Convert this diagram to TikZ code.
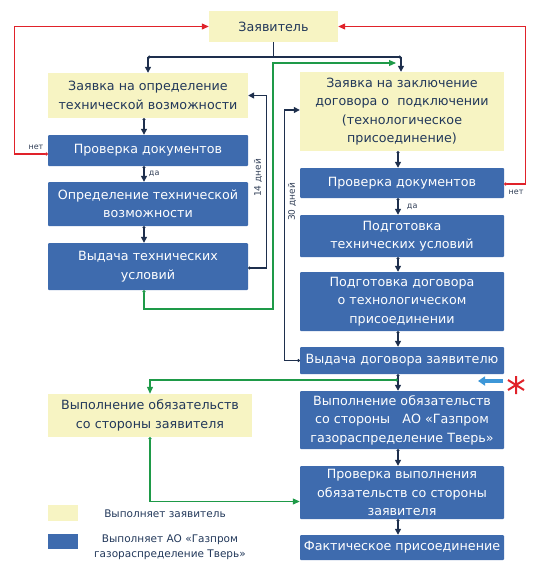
\documentclass[tikz,border=0pt]{standalone}
\usepackage{fontspec}
\setmainfont{DejaVu Sans}
\usetikzlibrary{arrows.meta}
\definecolor{ybg}{HTML}{F7F4C3}
\definecolor{bbg}{HTML}{3E6BAE}
\definecolor{navy}{HTML}{1E2F4D}
\definecolor{ytx}{HTML}{22385A}
\definecolor{rline}{HTML}{E0222A}
\definecolor{gline}{HTML}{1E9A48}
\definecolor{lblue}{HTML}{3D97D8}
\tikzset{
  box/.style={rectangle, inner sep=1pt, align=center, font=\fontsize{12.7}{18.5}\selectfont},
  ybox/.style={box, fill=ybg, text=ytx},
  bbox/.style={box, fill=bbg, text=white, rounded corners=1pt},
  arr/.style={navy, line width=1.3pt, {Circle[length=2.6pt]}-{Triangle[length=6pt,width=6pt]}},
  redarr/.style={rline, line width=1.1pt, {Circle[length=3pt]}-{Triangle[length=7pt,width=6pt]}},
  grarr/.style={gline, line width=1.1pt, {Circle[length=3pt]}-{Triangle[length=7pt,width=6pt]}},
  small/.style={font=\fontsize{8}{9}\selectfont, text=navy!80!gray},
  leg/.style={font=\fontsize{10.5}{15}\selectfont, text=ytx, align=center}
}
\begin{document}
\begin{tikzpicture}[x=1pt,y=-1pt]
\useasboundingbox (0,0) rectangle (544,581);
% boxes
\node[ybox, minimum width=129pt, minimum height=31pt] (zav) at (273.5,26.5) {Заявитель};
\node[ybox, minimum width=200pt, minimum height=45pt] (yL) at (148,95.5) {Заявка на определение\\технической возможности};
\node[bbox, minimum width=200pt, minimum height=31pt] (pL) at (148,150.5) {Проверка документов};
\node[bbox, minimum width=200pt, minimum height=44pt] (oL) at (148,204) {Определение технической\\возможности};
\node[bbox, minimum width=200pt, minimum height=47pt] (vL) at (148,266.5) {Выдача технических\\условий};
\node[ybox, minimum width=204pt, minimum height=79pt] (yR) at (402,111.5) {Заявка на заключение\\договора о\ \ подключении\\(технологическое\\присоединение)};
\node[bbox, minimum width=204pt, minimum height=30pt] (pR) at (402,183) {Проверка документов};
\node[bbox, minimum width=204pt, minimum height=42pt] (tR) at (402,236) {Подготовка\\технических условий};
\node[bbox, minimum width=204pt, minimum height=59pt] (dR) at (402,301.5) {Подготовка договора\\о технологическом\\присоединении};
\node[bbox, minimum width=204pt, minimum height=27pt] (gR) at (402,360.5) {Выдача договора заявителю};
\node[bbox, minimum width=204pt, minimum height=58pt] (aR) at (402,420) {Выполнение обязательств\\со стороны\ \ \ АО «Газпром\\газораспределение Тверь»};
\node[bbox, minimum width=204pt, minimum height=53pt] (cR) at (402,492.5) {Проверка выполнения\\обязательств со стороны\\заявителя};
\node[bbox, minimum width=204pt, minimum height=25pt] (fR) at (402,547.5) {Фактическое присоединение};
\node[ybox, minimum width=204pt, minimum height=43pt] (yL2) at (150,415.5) {Выполнение обязательств\\со стороны заявителя};
% legend
\node[fill=ybg, minimum width=30pt, minimum height=16pt, inner sep=0pt] (lg1) at (63,513) {};
\node[fill=bbg, minimum width=30pt, minimum height=15pt, inner sep=0pt] (lg2) at (63,541.5) {};
\node[leg] (lt1) at (165,514) {Выполняет заявитель};
\node[leg] (lt2) at (170,547.5) {Выполняет АО «Газпром\\газораспределение Тверь»};
% bus from applicant
\coordinate (busL) at (148,57);
\coordinate (busR) at (401,57);
\coordinate (busM) at (273.5,57);
\draw[navy, line width=1.3pt] (zav.south) -- (busM);
\draw[navy, line width=1.3pt, {Circle[length=2.6pt]}-{Circle[length=2.6pt]}] (busL) -- (busR);
\draw[navy, line width=1.3pt, -{Triangle[length=6pt,width=6pt]}] (busL) -- (yL.north);
\draw[navy, line width=1.3pt, -{Triangle[length=6pt,width=6pt]}] (busR) -- ([xshift=-1pt]yR.north);
% left column
\draw[arr] ([xshift=-4pt]yL.south) -- ([xshift=-4pt]pL.north);
\draw[arr] ([xshift=-4pt]pL.south) -- node[small, right=1pt] {да} ([xshift=-4pt]oL.north);
\draw[arr] ([xshift=-4pt]oL.south) -- ([xshift=-4pt]vL.north);
\draw[arr] ([yshift=-1.5pt]vL.east) -- ++(18,0) coordinate (c14) |- (yL.east);
\node[small, rotate=90, font=\fontsize{9}{10}\selectfont] (l14) at (258,178) {14 дней};
% right column
\draw[arr] ([xshift=-4pt]yR.south) -- ([xshift=-4pt]pR.north);
\draw[arr] ([xshift=-4pt]pR.south) -- node[small, right=5pt] {да} ([xshift=-4pt]tR.north);
\draw[arr] ([xshift=-4pt]tR.south) -- ([xshift=-4pt]dR.north);
\draw[arr] ([xshift=-4pt]dR.south) -- ([xshift=-4pt]gR.north);
\draw[arr] ([xshift=-4pt]gR.south) -- ([xshift=-4pt]aR.north);
\draw[arr] ([xshift=-4pt]aR.south) -- ([xshift=-4pt]cR.north);
\draw[arr] ([xshift=-4pt]cR.south) -- ([xshift=-4pt]fR.north);
\draw[arr] (gR.west) -- ++(-15,0) coordinate (c30) |- ([yshift=1.5pt]yR.west);
\node[small, rotate=90, font=\fontsize{9}{10}\selectfont] (l30) at (292,202) {30 дней};
% red "no" returns
\draw[redarr] ([yshift=-3.5pt]pL.west) -- ++(-33,0) coordinate (rl) |- (zav.west);
\node[small] (n1) at (36,147) {нет};
\draw[redarr] ([yshift=-1pt]pR.east) -- ++(21,0) coordinate (rr) |- (zav.east);
\node[small] (n2) at (516,192) {нет};
% green lines
\coordinate (g1) at (273,309);
\coordinate (g2) at (273,63);
\coordinate (g3) at (396,63);
\draw[gline, line width=1.1pt, {Circle[length=3pt]}-{Triangle[length=7pt,width=6pt]}] ([xshift=-4pt]vL.south) |- (g1) -- (g2) -- (g3);
\coordinate (gj) at (398,380);
\draw[grarr] (gj) -| (yL2.north);
\draw[grarr] (yL2.south) |- ([yshift=-9pt]cR.west);
% blue arrow and asterisk
\coordinate (ba1) at (503,381);
\coordinate (ba2) at (478,381);
\draw[lblue, line width=3.5pt, -{Triangle[length=7pt,width=9pt]}] (ba1) -- (ba2);
\coordinate (ast) at (516,385);
\draw[rline, line width=2pt] ([yshift=9pt]ast) -- ([yshift=-9pt]ast)
  ([shift={(-8pt,5pt)}]ast) -- ([shift={(8pt,-5pt)}]ast)
  ([shift={(-8pt,-5pt)}]ast) -- ([shift={(8pt,5pt)}]ast);
\end{tikzpicture}
\end{document}
